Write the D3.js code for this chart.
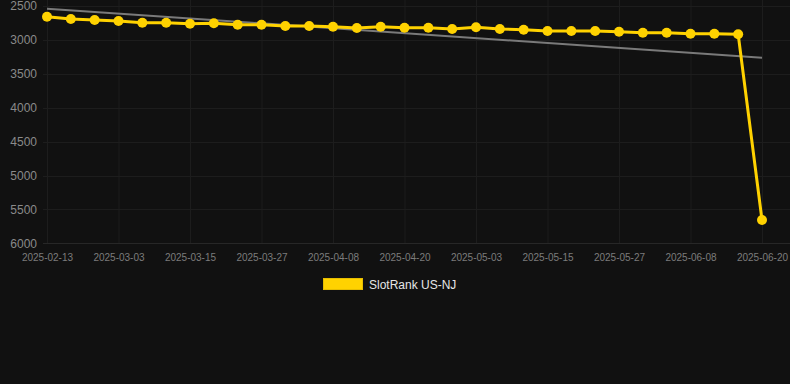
<!DOCTYPE html>
<html>
<head>
<meta charset="utf-8">
<script src="https://cdn.jsdelivr.net/npm/d3@7"></script>
<style>
  html, body { margin: 0; padding: 0; background: #111111; }
  svg { display: block; }
</style>
</head>
<body>
<div id="chart"></div>
<script>
(function () {
  'use strict';

  // ── Data ──
  var dates = [
    '2025-02-13', '2025-02-19', '2025-02-25', '2025-03-03', '2025-03-07', '2025-03-11',
    '2025-03-15', '2025-03-19', '2025-03-23', '2025-03-27', '2025-03-31', '2025-04-04',
    '2025-04-08', '2025-04-12', '2025-04-16', '2025-04-20', '2025-04-24', '2025-04-28',
    '2025-05-03', '2025-05-07', '2025-05-11', '2025-05-15', '2025-05-19', '2025-05-23',
    '2025-05-27', '2025-05-31', '2025-06-04', '2025-06-08', '2025-06-12', '2025-06-16',
    '2025-06-20'
  ];
  var rankValues = [
    2656, 2690, 2705, 2720, 2745, 2745, 2760, 2754, 2774, 2774,
    2794, 2794, 2804, 2823, 2804, 2819, 2819, 2838, 2813, 2838,
    2848, 2867, 2867, 2867, 2878, 2892, 2892, 2907, 2907, 2916,
    5656
  ];
  // trend line end values
  var trendValues = [2538, 3261];
  var yTicks = [2500, 3000, 3500, 4000, 4500, 5000, 5500, 6000];
  var seriesName = 'SlotRank US-NJ';

  // ── Style ──
  var WIDTH = 790;
  var HEIGHT = 384;
  var LINE_COLOR = '#ffd200';
  var TREND_COLOR = '#7a7a7a';
  var GRID_COLOR = '#1d1d1d';
  var FONT = 'Arial, "Liberation Sans", Helvetica, sans-serif';

  var svg = d3.select('#chart').append('svg')
    .attr('width', WIDTH)
    .attr('height', HEIGHT);

  svg.append('rect')
    .attr('width', WIDTH).attr('height', HEIGHT)
    .attr('fill', '#111111');

  var x = d3.scalePoint().domain(dates).range([47, 762]);
  var y = d3.scaleLinear().domain([2500, 6000]).range([6.1, 243.3]);

  // ── Grid ──
  var shownDates = dates.filter(function (d, i) { return i % 3 === 0; });

  svg.append('g').selectAll('line.vgrid')
    .data(shownDates)
    .join('line')
    .attr('x1', function (d) { return x(d) + 0.5; })
    .attr('x2', function (d) { return x(d) + 0.5; })
    .attr('y1', 0).attr('y2', y(6000))
    .attr('stroke', GRID_COLOR).attr('stroke-width', 1);

  svg.append('g').selectAll('line.hgrid')
    .data(yTicks)
    .join('line')
    .attr('x1', 43).attr('x2', WIDTH)
    .attr('y1', function (d) { return Math.round(y(d)) + 0.5; })
    .attr('y2', function (d) { return Math.round(y(d)) + 0.5; })
    .attr('stroke', function (d) { return d === 6000 ? '#272727' : GRID_COLOR; })
    .attr('stroke-width', 1);

  // ── Axes ──
  var yAxis = svg.append('g')
    .attr('transform', 'translate(37,0)')
    .call(d3.axisLeft(y).tickValues(yTicks).tickSize(0).tickPadding(0).tickFormat(d3.format('d')));
  yAxis.select('.domain').remove();
  yAxis.selectAll('text')
    .attr('font-family', FONT).attr('font-size', 12)
    .attr('fill', '#8a8a8a');

  var xAxis = svg.append('g')
    .attr('transform', 'translate(0,' + y(6000) + ')')
    .call(d3.axisBottom(x).tickValues(shownDates).tickSize(0).tickPadding(11));
  xAxis.select('.domain').remove();
  xAxis.selectAll('text')
    .attr('font-family', FONT).attr('font-size', 10)
    .attr('fill', '#7c7c7c');

  // ── Trend line ──
  svg.append('line')
    .attr('x1', x(dates[0])).attr('x2', x(dates[dates.length - 1]))
    .attr('y1', y(trendValues[0])).attr('y2', y(trendValues[1]))
    .attr('stroke', TREND_COLOR).attr('stroke-width', 2);

  // ── Series ──
  var line = d3.line()
    .x(function (d, i) { return x(dates[i]); })
    .y(function (d) { return y(d); });

  svg.append('path')
    .datum(rankValues)
    .attr('d', line)
    .attr('fill', 'none')
    .attr('stroke', LINE_COLOR)
    .attr('stroke-width', 3)
    .attr('stroke-linejoin', 'round');

  svg.append('g').selectAll('circle')
    .data(rankValues)
    .join('circle')
    .attr('cx', function (d, i) { return x(dates[i]); })
    .attr('cy', function (d) { return y(d); })
    .attr('r', 5)
    .attr('fill', LINE_COLOR);

  // ── Legend ──
  var legend = svg.append('g').attr('transform', 'translate(323,278)');
  legend.append('rect')
    .attr('x', 0.5).attr('y', 0.5)
    .attr('width', 39).attr('height', 11)
    .attr('fill', LINE_COLOR)
    .attr('stroke', '#e6bd00').attr('stroke-width', 1);
  legend.append('text')
    .attr('x', 46).attr('y', 6.5)
    .attr('dy', '0.35em')
    .attr('font-family', FONT).attr('font-size', 12)
    .attr('fill', '#e6e6e6')
    .text(seriesName);
})();
</script>
</body>
</html>
